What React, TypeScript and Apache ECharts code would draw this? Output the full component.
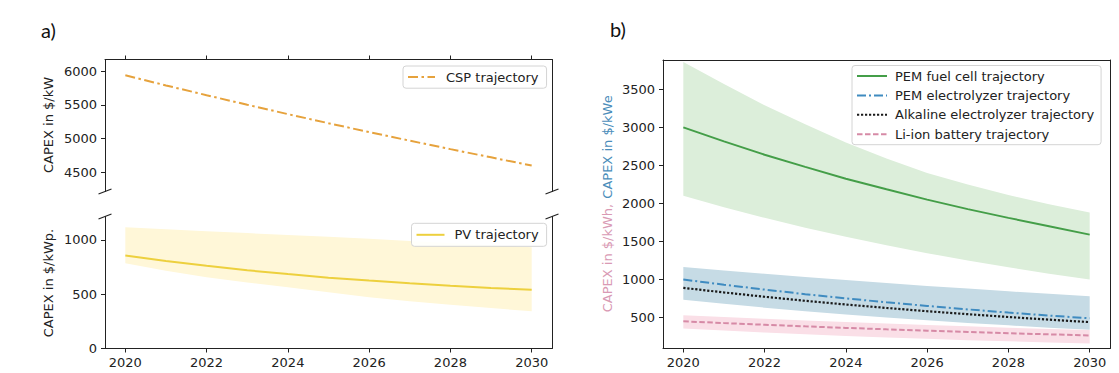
import React, { useEffect, useRef } from "react";
import * as echarts from "echarts";

const years = [2020, 2021, 2022, 2023, 2024, 2025, 2026, 2027, 2028, 2029, 2030];
const tickYears = [2020, 2022, 2024, 2026, 2028, 2030];

const cspValues = [5940, 5790, 5645, 5503, 5364, 5229, 5097, 4969, 4844, 4722, 4600];
const pvValues = [855, 805, 762, 720, 685, 652, 625, 600, 578, 558, 540];
const pvUpper = [1115, 1098, 1080, 1062, 1045, 1028, 1010, 990, 970, 950, 932];
const pvLower = [785, 715, 655, 607, 563, 517, 471, 436, 403, 372, 342];

const fuelCell = [3000, 2815, 2640, 2480, 2325, 2185, 2050, 1925, 1810, 1700, 1590];
const fuelCellUpper = [3860, 3570, 3290, 3040, 2800, 2590, 2400, 2250, 2110, 1990, 1880];
const fuelCellLower = [2100, 1950, 1810, 1681, 1561, 1450, 1346, 1250, 1160, 1077, 1000];
const pemElectrolyzer = [1000, 931, 867, 807, 752, 700, 652, 607, 565, 526, 490];
const pemElectrolyzerUpper = [1165, 1119, 1075, 1033, 992, 953, 916, 880, 845, 812, 780];
const pemElectrolyzerLower = [735, 680, 630, 583, 540, 500, 463, 428, 397, 367, 340];
const alkaline = [890, 830, 773, 720, 671, 626, 583, 544, 507, 472, 440];
const liIon = [450, 427, 405, 384, 364, 345, 327, 310, 294, 279, 265];
const liIonUpper = [530, 506, 483, 462, 441, 421, 402, 384, 367, 350, 335];
const liIonLower = [355, 328, 303, 279, 258, 238, 220, 203, 188, 173, 160];

const cspTicks = [4500, 5000, 5500, 6000];
const pvTicks = [0, 500, 1000];
const rightTicks = [500, 1000, 1500, 2000, 2500, 3000, 3500];

const FONT = "DejaVu Sans";
const AXIS_COLOR = "#222";

const pts = (vals: number[]) => years.map((y, i) => [y, vals[i]]);

function band(id: string, xi: number, yi: number, lo: number[], up: number[], color: string) {
  return {
    type: "custom", name: id, xAxisIndex: xi, yAxisIndex: yi, silent: true, z: 1,
    data: years.map((y, i) => [y, lo[i], up[i]]),
    encode: { x: 0, y: [1, 2] },
    renderItem: (params: any, api: any) => {
      if (params.dataIndex !== 0) return null;
      const upper = years.map((y, i) => api.coord([y, up[i]]));
      const lower = years.map((y, i) => api.coord([y, lo[i]])).reverse();
      return {
        type: "polygon",
        shape: { points: upper.concat(lower) },
        style: { fill: color, stroke: "none" },
      };
    },
  };
}

function line(name: string, xi: number, yi: number, vals: number[], color: string, type: any, width = 2) {
  return {
    type: "line", name, xAxisIndex: xi, yAxisIndex: yi, data: pts(vals), symbol: "none", showSymbol: false,
    lineStyle: { color, width, type }, itemStyle: { color }, z: 3,
  };
}

const fmt = (v: number) => String(v);

const xBase = (gridIndex: number, position: string, ticks: boolean, labels: boolean) => ({
  type: "value", gridIndex, position, min: 2019.5, max: 2030.5,
  axisLine: { show: true, onZero: false, lineStyle: { color: AXIS_COLOR, width: 1 } },
  axisTick: { show: ticks, customValues: tickYears, length: 4, lineStyle: { color: AXIS_COLOR } },
  axisLabel: {
    show: labels, customValues: tickYears, margin: 7, fontSize: 13, fontFamily: FONT, color: AXIS_COLOR, formatter: fmt,
  },
  splitLine: { show: false },
});

const yBase = (gridIndex: number, min: number, max: number, ticks: number[]) => ({
  type: "value", gridIndex, position: "left", min, max,
  axisLine: { show: true, onZero: false, lineStyle: { color: AXIS_COLOR, width: 1 } },
  axisTick: { show: true, customValues: ticks, length: 4, lineStyle: { color: AXIS_COLOR } },
  axisLabel: { show: true, customValues: ticks, margin: 8, fontSize: 13, fontFamily: FONT, color: AXIS_COLOR, formatter: fmt },
  splitLine: { show: false },
});

const yRight = (gridIndex: number, min: number, max: number) => ({
  type: "value", gridIndex, position: "right", min, max,
  axisLine: { show: true, onZero: false, lineStyle: { color: AXIS_COLOR, width: 1 } },
  axisTick: { show: false }, axisLabel: { show: false }, splitLine: { show: false },
});

const legendCommon = {
  itemHeight: 14, itemGap: 6.4, selectedMode: false,
  itemStyle: { opacity: 0, borderWidth: 0 },
  borderColor: "#d4d4d4", borderWidth: 1, borderRadius: 3, backgroundColor: "rgba(255,255,255,0.9)",
};

function breakMark(x: number, y: number) {
  return {
    type: "line", shape: { x1: x - 6.5, y1: y + 2.5, x2: x + 6.5, y2: y - 2.5 },
    style: { stroke: AXIS_COLOR, lineWidth: 1.2 }, z: 50,
  };
}

export default function App() {
  const ref = useRef<HTMLDivElement>(null);
  useEffect(() => {
    if (!ref.current) return;
    const chart = echarts.init(ref.current, null, { renderer: "svg" });
    const option: any = {
      animation: false,
      backgroundColor: "#fff",
      grid: [
        { left: 105, top: 59.5, width: 447, height: 132 },
        { left: 105, top: 216.5, width: 447, height: 132 },
        { left: 663, top: 60, width: 447, height: 288.5 },
      ],
      xAxis: [
        xBase(0, "top", true, false),
        xBase(1, "bottom", true, true),
        xBase(2, "bottom", true, true),
        xBase(2, "top", false, false),
      ],
      yAxis: [
        yBase(0, 4215, 6175, cspTicks),
        yRight(0, 4215, 6175),
        yBase(1, 0, 1215, pvTicks),
        yRight(1, 0, 1215),
        yBase(2, 93, 3885, rightTicks),
        yRight(2, 93, 3885),
      ],
      legend: [
        {
          ...legendCommon, data: ["CSP trajectory"], left: 403, top: 66, itemWidth: 27,
          padding: [4.6, 8, 4.6, 4],
          textStyle: { fontSize: 13, fontFamily: FONT, color: "#222", padding: [0, 0, 0, 6] },
        },
        {
          ...legendCommon, data: ["PV trajectory"], left: 411.5, top: 223.3, itemWidth: 28,
          padding: [5, 8, 5, 4],
          textStyle: { fontSize: 13, fontFamily: FONT, color: "#222", padding: [0, 0, 0, 5] },
        },
        {
          ...legendCommon, orient: "vertical", left: 852, top: 65.5, itemWidth: 30,
          padding: [4, 7, 4, 4],
          data: ["PEM fuel cell trajectory", "PEM electrolyzer trajectory", "Alkaline electrolyzer trajectory", "Li-ion battery trajectory"],
          textStyle: { fontSize: 13, fontFamily: FONT, color: "#222", padding: [0, 0, 0, 3] },
        },
      ],
      series: [
        band("pvBand", 1, 2, pvLower, pvUpper, "#FFF7D8"),
        band("fcBand", 2, 4, fuelCellLower, fuelCellUpper, "#DCEEDA"),
        band("elBand", 2, 4, pemElectrolyzerLower, pemElectrolyzerUpper, "#C6DBE5"),
        band("liBand", 2, 4, liIonLower, liIonUpper, "#FADFE7"),
        line("CSP trajectory", 0, 0, cspValues, "#E6A23C", [10, 3.5, 2.5, 3.5]),
        line("PV trajectory", 1, 2, pvValues, "#EDD03E", "solid"),
        line("PEM fuel cell trajectory", 2, 4, fuelCell, "#449E48", "solid"),
        line("PEM electrolyzer trajectory", 2, 4, pemElectrolyzer, "#3F8BC0", [9, 3, 2, 3]),
        line("Alkaline electrolyzer trajectory", 2, 4, alkaline, "#1a1a1a", [2.2, 1.8], 2.2),
        line("Li-ion battery trajectory", 2, 4, liIon, "#D68AA6", [5.5, 2.5]),
      ],
      graphic: [
        { type: "text", left: 41, top: 20, style: { text: "a)", fontSize: 20, fontFamily: "Lato", fill: "#111" } },
        { type: "text", left: 610, top: 19, style: { text: "b)", fontSize: 20, fontFamily: "Lato", fill: "#111" } },
        {
          type: "text", x: 48, y: 125, rotation: Math.PI / 2,
          style: { text: "CAPEX in $/kW", fontSize: 13, fontFamily: FONT, fill: "#222", textAlign: "center", textVerticalAlign: "middle" },
        },
        {
          type: "text", x: 48, y: 283, rotation: Math.PI / 2,
          style: { text: "CAPEX in $/kWp.", fontSize: 13, fontFamily: FONT, fill: "#222", textAlign: "center", textVerticalAlign: "middle" },
        },
        {
          type: "text", x: 607, y: 147, rotation: Math.PI / 2,
          style: { text: "CAPEX in $/kWe", fontSize: 13, fontFamily: FONT, fill: "#4A8DBA", textAlign: "center", textVerticalAlign: "middle" },
        },
        {
          type: "text", x: 607, y: 258, rotation: Math.PI / 2,
          style: { text: "CAPEX in $/kWh,", fontSize: 13, fontFamily: FONT, fill: "#D99AB4", textAlign: "center", textVerticalAlign: "middle" },
        },
        breakMark(105, 191.5),
        breakMark(552, 191.5),
        breakMark(105, 216.5),
        breakMark(552, 216.5),
      ],
    };
    chart.setOption(option);
    return () => chart.dispose();
  }, []);
  return (
    <div
      ref={ref}
      style={{ position: "fixed", left: 0, top: 0, width: 1119, height: 373, background: "#fff" }}
    />
  );
}
